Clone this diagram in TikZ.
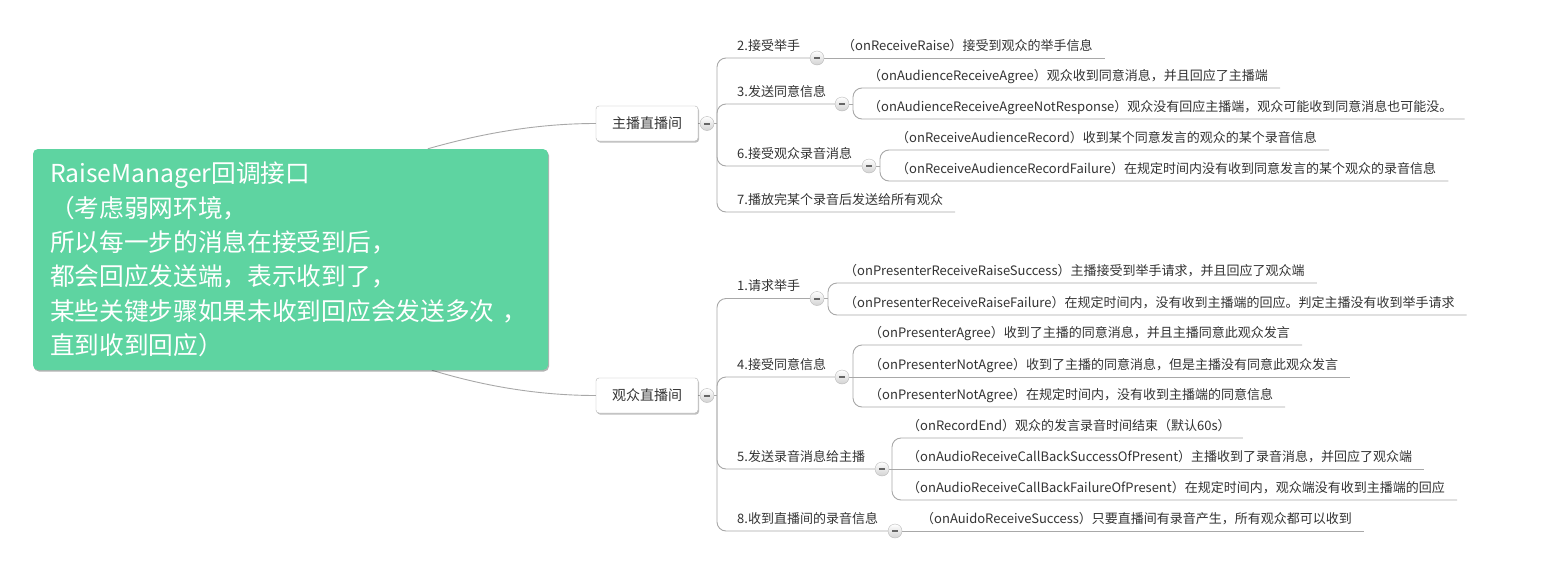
\documentclass[tikz,border=0pt]{standalone}
\usepackage{fontspec}
\setmainfont{Noto Sans CJK SC}
\usetikzlibrary{calc,shadows}
\definecolor{lgray}{HTML}{A8A8A8}
\definecolor{rootgreen}{HTML}{5ED4A1}
\definecolor{txt}{HTML}{333333}
\definecolor{bordgray}{HTML}{B4B4B4}
\pgfdeclarelayer{back}
\pgfdeclarelayer{bg}
\pgfsetlayers{back,bg,main}
\begin{document}
\begin{tikzpicture}[x=1pt,y=-1pt,
  conn/.style={draw=lgray, line width=0.9pt},
  bconn/.style={conn, rounded corners=9pt},
  rootbox/.style={fill=rootgreen, rounded corners=5pt, minimum width=515pt, minimum height=221pt,
    text width=481pt, align=left, inner xsep=17pt, text=white,
    font=\fontsize{24.7}{34.3}\selectfont,
    drop shadow={shadow xshift=1pt, shadow yshift=-1.5pt, opacity=0.3, fill=black}},
  mainbox/.style={draw=bordgray, fill=white, rounded corners=3pt, minimum width=102pt, minimum height=35pt,
    inner sep=0pt, font=\fontsize{14}{16}\selectfont, text=txt,
    drop shadow={shadow xshift=1pt, shadow yshift=-1.5pt, opacity=0.25, fill=black}},
  lbl/.style={anchor=south west, inner xsep=4pt, inner ysep=4pt, text height=10pt, text depth=3pt,
    font=\fontsize{13}{15}\selectfont, text=txt},
  tog/.style={circle, draw=gray!55, minimum size=14pt, inner sep=0pt, top color=white, bottom color=gray!35,
    path picture={\draw[line width=2pt, black!60] ([xshift=-3pt]path picture bounding box.center) -- ([xshift=3pt]path picture bounding box.center);}}
]
\begin{pgfonlayer}{back}
\fill[white] (0,0) rectangle (1556,565);
\end{pgfonlayer}
\useasboundingbox (0,0) rectangle (1556,565);

% root
\node[rootbox] (root) at (290.5,259.5) {RaiseManager回调接口\\（考虑弱网环境，\\所以每一步的消息在接受到后，\\都会回应发送端，表示收到了，\\某些关键步骤如果未收到回应会发送多次 ，\\直到收到回应）};

% main topics
\node[mainbox] (m1) at (647,123.5) {主播直播间};
\node[mainbox] (m2) at (647,395.5) {观众直播间};
\node[tog] (i1) at (707,123.5) {};
\node[tog] (i2) at (707,395.5) {};
\coordinate (b1) at (717,123.5);
\coordinate (b2) at (717,395.5);

% upper branches
\node[lbl] (a2) at (733,58) {2.接受举手};
\node[tog] (ia2) at (817,58) {};
\node[lbl] (c2) at (838,58) {（onReceiveRaise）接受到观众的举手信息};

\node[lbl] (a3) at (733,104) {3.发送同意信息};
\node[tog] (ia3) at (842,104) {};
\coordinate (b3) at (853,104);
\node[lbl] (c3a) at (864,88) {（onAudienceReceiveAgree）观众收到同意消息，并且回应了主播端};
\node[lbl] (c3b) at (864,119) {（onAudienceReceiveAgreeNotResponse）观众没有回应主播端，观众可能收到同意消息也可能没。};

\node[lbl] (a6) at (733,166) {6.接受观众录音消息};
\node[tog] (ia6) at (869,166) {};
\coordinate (b6) at (880,166);
\node[lbl] (c6a) at (892,150) {（onReceiveAudienceRecord）收到某个同意发言的观众的某个录音信息};
\node[lbl] (c6b) at (892,181) {（onReceiveAudienceRecordFailure）在规定时间内没有收到同意发言的某个观众的录音信息};

\node[lbl] (a7) at (733,212) {7.播放完某个录音后发送给所有观众};

% lower branches
\node[lbl] (d1) at (733,298) {1.请求举手};
\node[tog] (id1) at (817,298.5) {};
\coordinate (bd1) at (828,298.5);
\node[lbl] (e1a) at (840,283) {（onPresenterReceiveRaiseSuccess）主播接受到举手请求，并且回应了观众端};
\node[lbl] (e1b) at (840,315) {（onPresenterReceiveRaiseFailure）在规定时间内，没有收到主播端的回应。判定主播没有收到举手请求};

\node[lbl] (d4) at (733,377) {4.接受同意信息};
\node[tog] (id4) at (842,377) {};
\coordinate (bd4) at (853,377);
\node[lbl] (e4a) at (865,345) {（onPresenterAgree）收到了主播的同意消息，并且主播同意此观众发言};
\node[lbl] (e4b) at (865,377) {（onPresenterNotAgree）收到了主播的同意消息，但是主播没有同意此观众发言};
\node[lbl] (e4c) at (865,407) {（onPresenterNotAgree）在规定时间内，没有收到主播端的同意信息};

\node[lbl] (d5) at (733,469) {5.发送录音消息给主播};
\node[tog] (id5) at (882,469) {};
\coordinate (bd5) at (892,469);
\node[lbl] (e5a) at (903,438) {（onRecordEnd）观众的发言录音时间结束（默认60s）};
\node[lbl] (e5b) at (903,469) {（onAudioReceiveCallBackSuccessOfPresent）主播收到了录音消息，并回应了观众端};
\node[lbl] (e5c) at (903,500) {（onAudioReceiveCallBackFailureOfPresent）在规定时间内，观众端没有收到主播端的回应};

\node[lbl] (d8) at (733,531) {8.收到直播间的录音信息};
\node[tog] (id8) at (895,531) {};
\node[lbl] (e8) at (917,531) {（onAuidoReceiveSuccess）只要直播间有录音产生，所有观众都可以收到};

\begin{pgfonlayer}{bg}
  % root to main topics
  \draw[conn] ($(root.north west)+(395,0)$) .. controls (490,131) and (545,123.5) .. (m1.west);
  \draw[conn] ($(root.south west)+(399,0)$) .. controls (490,388) and (545,395.5) .. (m2.west);
  \draw[conn] (m1.east) -- (i1);
  \draw[conn] (m2.east) -- (i2);
  \draw[conn] (i1) -- (b1);
  \draw[conn] (i2) -- (b2);
  % upper bracket
  \draw[bconn] (ia2.center) -- (ia2 -| b1) -- (b1);
  \draw[bconn] (ia3.center) -- (ia3 -| b1) -- (b1);
  \draw[bconn] (ia6.center) -- (ia6 -| b1) -- (b1);
  \draw[bconn] ([xshift=8pt]a7.south east) -- (a7.south east -| b1) -- (b1);
  \draw[conn] (ia2) -- ([xshift=8pt]c2.south east);
  \draw[conn] (ia3) -- (b3);
  \draw[bconn] ([xshift=8pt]c3a.south east) -- (c3a.south east -| b3) -- (b3);
  \draw[bconn] ([xshift=8pt]c3b.south east) -- (c3b.south east -| b3) -- (b3);
  \draw[conn] (ia6) -- (b6);
  \draw[bconn] ([xshift=8pt]c6a.south east) -- (c6a.south east -| b6) -- (b6);
  \draw[bconn] ([xshift=8pt]c6b.south east) -- (c6b.south east -| b6) -- (b6);
  % lower bracket
  \draw[bconn] (id1.center) -- (id1 -| b2) -- (b2);
  \draw[bconn] (id4.center) -- (id4 -| b2) -- (b2);
  \draw[bconn] (id5.center) -- (id5 -| b2) -- (b2);
  \draw[bconn] (id8.center) -- (id8 -| b2) -- (b2);
  \draw[conn] (id1) -- (bd1);
  \draw[bconn] ([xshift=8pt]e1a.south east) -- (e1a.south east -| bd1) -- (bd1);
  \draw[bconn] ([xshift=8pt]e1b.south east) -- (e1b.south east -| bd1) -- (bd1);
  \draw[conn] (id4) -- (bd4);
  \draw[bconn] ([xshift=8pt]e4a.south east) -- (e4a.south east -| bd4) -- (bd4);
  \draw[conn] (bd4) -- ([xshift=8pt]e4b.south east);
  \draw[bconn] ([xshift=8pt]e4c.south east) -- (e4c.south east -| bd4) -- (bd4);
  \draw[conn] (id5) -- (bd5);
  \draw[bconn] ([xshift=8pt]e5a.south east) -- (e5a.south east -| bd5) -- (bd5);
  \draw[conn] (bd5) -- ([xshift=8pt]e5b.south east);
  \draw[bconn] ([xshift=8pt]e5c.south east) -- (e5c.south east -| bd5) -- (bd5);
  \draw[conn] (id8) -- ([xshift=8pt]e8.south east);
\end{pgfonlayer}
\end{tikzpicture}
\end{document}
